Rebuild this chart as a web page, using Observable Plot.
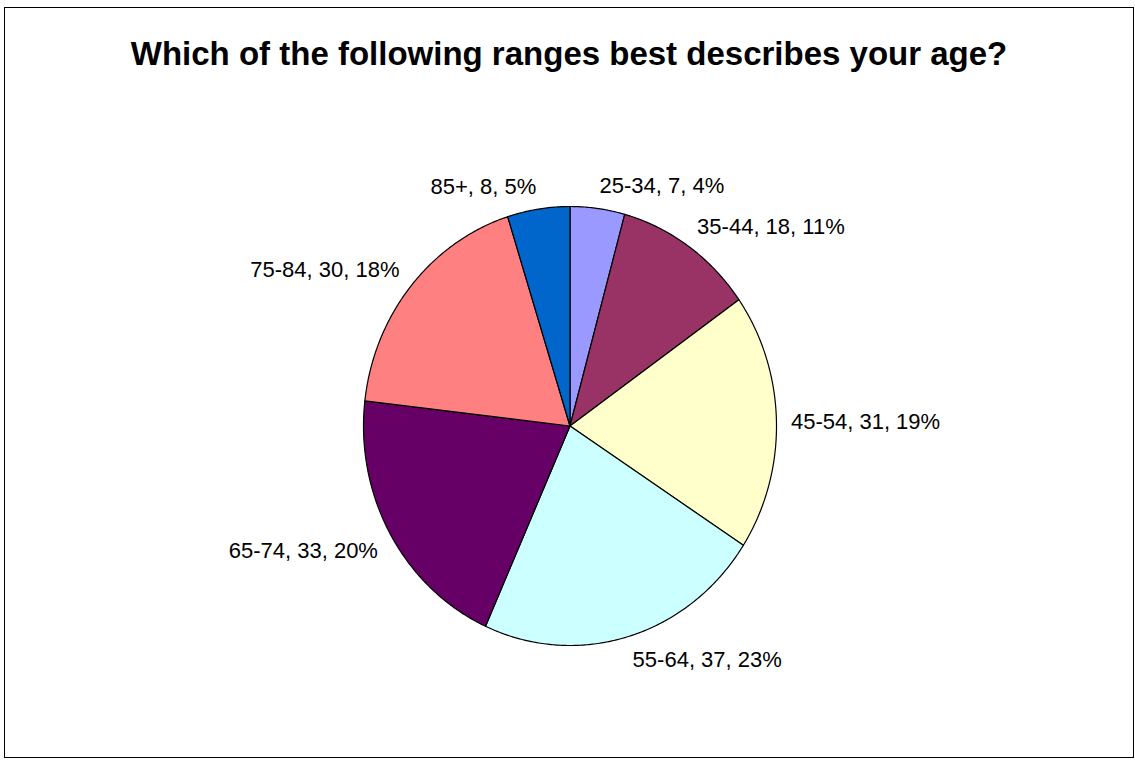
<!DOCTYPE html>
<html>
<head>
<meta charset="utf-8">
<script src="https://cdn.jsdelivr.net/npm/d3@7"></script>
<script src="https://cdn.jsdelivr.net/npm/@observablehq/plot@0.6"></script>
<style>
  html, body { margin: 0; padding: 0; background: #fff; }
  svg { display: block; }
</style>
</head>
<body>
<div id="chart"></div>
<script>
const title = "Which of the following ranges best describes your age?";
const categories = ["25-34", "35-44", "45-54", "55-64", "65-74", "75-84", "85+"];
const counts = [7, 18, 31, 37, 33, 30, 8];
const colors = ["#9999FF", "#993366", "#FFFFCC", "#CCFFFF", "#660066", "#FF8080", "#0066CC"];

const total = d3.sum(counts);
// d3.pie: angle 0 at 12 o'clock, clockwise — same as the spreadsheet pie
const arcs = d3.pie().sort(null).value(d => d)(counts);

// slice outlines in unit (data) coordinates, drawn through Plot's x/y scales
const slicePts = [];
arcs.forEach((p, i) => {
  const cat = categories[i];
  slicePts.push({cat, x: 0, y: 0});
  const n = Math.max(2, Math.ceil((p.endAngle - p.startAngle) / (Math.PI / 360)));
  for (let k = 0; k <= n; k++) {
    const a = p.startAngle + (p.endAngle - p.startAngle) * k / n;
    slicePts.push({cat, x: Math.sin(a), y: Math.cos(a)});
  }
});

const R = 1.07;
const labels = arcs.map((p, i) => {
  const a = (p.startAngle + p.endAngle) / 2;
  const s = Math.sin(a), c = Math.cos(a);
  return {
    x: R * s, y: R * c,
    text: `${categories[i]}, ${counts[i]}, ${Math.round(100 * counts[i] / total)}%`,
    ta: s > 0.1 ? "start" : s < -0.1 ? "end" : "middle",
    la: Math.abs(c) < 0.2 ? "middle" : c > 0 ? "bottom" : "top"
  };
});

const labelMarks = d3.groups(labels, d => d.ta + "|" + d.la).map(([key, rows]) => {
  const [ta, la] = key.split("|");
  return Plot.text(rows, {
    x: "x", y: "y", text: "text",
    textAnchor: ta, lineAnchor: la,
    fontSize: 22, fill: "#000",
    fontFamily: "'Liberation Sans', Arial, sans-serif"
  });
});

const chart = Plot.plot({
  width: 1135,
  height: 761,
  marginLeft: 4,
  marginTop: 7,
  marginRight: 2,
  marginBottom: 4,
  style: {fontFamily: "'Liberation Sans', Arial, sans-serif", background: "#fff"},
  x: {domain: [-1, 1], range: [363, 776], axis: null},
  y: {domain: [-1, 1], range: [645, 206], axis: null},
  color: {domain: categories, range: colors},
  marks: [
    Plot.frame({stroke: "#000", strokeWidth: 1}),
    Plot.line(slicePts, {
      x: "x", y: "y", z: "cat", fill: "cat",
      stroke: "#000", strokeWidth: 1.2, curve: "linear-closed", strokeLinejoin: "round"
    }),
    ...labelMarks,
    Plot.text([title], {
      frameAnchor: "top", dy: 34,
      fontSize: 33, fontWeight: "bold", fill: "#000",
      fontFamily: "'Liberation Sans', Arial, sans-serif"
    })
  ]
});
document.getElementById("chart").appendChild(chart);
</script>
</body>
</html>
